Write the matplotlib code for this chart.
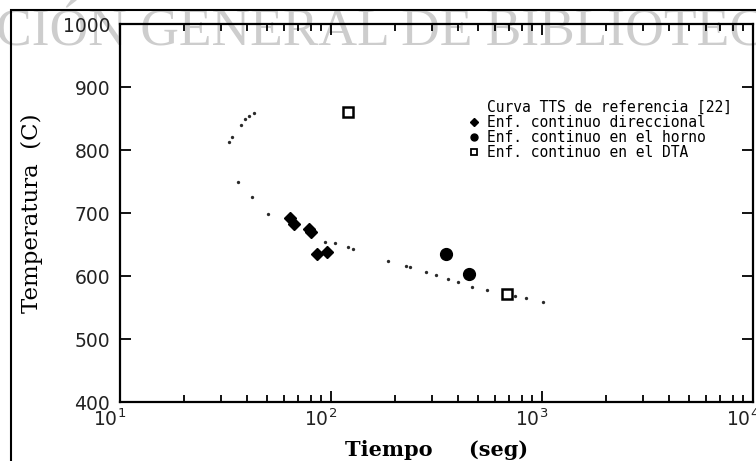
import matplotlib
matplotlib.use("Agg")
import matplotlib.pyplot as plt
from matplotlib.lines import Line2D
from matplotlib.patches import Rectangle
from matplotlib.ticker import LogLocator, FixedLocator, NullFormatter
import matplotlib.transforms as mtransforms

# ---- data ----
tts_time = [43.2, 40.8, 39.1, 37.4, 33.9, 32.9,
            36.2, 42.3, 50.2, 93.7, 104.5, 120.5, 127, 186, 227, 237,
            282, 315, 358, 400, 466, 548, 745, 840, 1011]
tts_temp = [859, 854, 849, 840, 821, 813,
            749, 725, 698, 654, 652, 646, 643, 624, 616, 614,
            606, 602, 595, 590, 583, 578, 568, 565, 559]

dir_time = [64.0, 66.8, 78.7, 80.4, 85.9, 95.7]
dir_temp = [692, 683, 675, 670, 635, 638]

horno_time = [351, 451]
horno_temp = [635, 603]

dta_time = [120.5, 682]
dta_temp = [860, 571]

labels = ["Curva TTS de referencia [22]",
          "Enf. continuo direccional",
          "Enf. continuo en el horno",
          "Enf. continuo en el DTA"]
yticks = [400, 500, 600, 700, 800, 900, 1000]
xticks = [10, 100, 1000, 10000]
xticklabels = [r"$10^{1}$", r"$10^{2}$", r"$10^{3}$", r"$10^{4}$"]

W, H = 756, 461
fig = plt.figure(figsize=(W / 100, H / 100), dpi=100, facecolor="white")

# watermark
fig.text(-4 / W, 1 - 46 / H, "CIÓN GENERAL DE BIBLIOTECAS", family="Liberation Serif",
         fontsize=38.5, color="#cdcdcd", ha="left", va="baseline", zorder=-5)

# outer frame
fig.add_artist(Rectangle((11 / W, -0.2), 1.5, 1.2 - 10 / H, transform=fig.transFigure,
                         fill=False, lw=1.5, edgecolor="black"))

ax = fig.add_axes([120 / W, 1 - 402 / H, (753 - 120) / W, (402 - 24) / H])
ax.set_facecolor("none")

ax.plot(tts_time, tts_temp, linestyle="none", marker="o", markersize=2.4,
        color="#2a2a2a", markeredgewidth=0)
ax.plot(dir_time, dir_temp, linestyle="none", marker="D", markersize=6,
        color="black")
ax.plot(horno_time, horno_temp, linestyle="none", marker="o", markersize=8.5,
        color="black")
ax.plot(dta_time, dta_temp, linestyle="none", marker="s", markersize=7,
        markerfacecolor="white", markeredgecolor="black", markeredgewidth=1.8)

ax.set_xscale("log")
ax.set_xlim(10, 10000)
ax.set_ylim(400, 1000)

ax.xaxis.set_major_locator(FixedLocator(xticks))
ax.set_xticklabels(xticklabels)
ax.xaxis.set_minor_locator(LogLocator(base=10, subs=range(2, 10)))
ax.xaxis.set_minor_formatter(NullFormatter())
ax.set_yticks(yticks)
ax.set_yticklabels([str(v) for v in yticks])

ax.tick_params(axis="both", which="both", direction="in", top=True, right=True,
               width=1.3, color="black")
ax.tick_params(axis="both", which="major", length=8)
ax.tick_params(axis="both", which="minor", length=5)
ax.tick_params(axis="y", labelsize=13.5, pad=7, labelcolor="#222222")
ax.tick_params(axis="x", labelsize=13.5, pad=5, labelcolor="#222222")
for lab in ax.get_yticklabels():
    lab.set_family("DejaVu Sans")
offset = mtransforms.ScaledTranslation(-10 / 100, 0, fig.dpi_scale_trans)
for lab in ax.get_xticklabels():
    lab.set_transform(lab.get_transform() + offset)

for s in ax.spines.values():
    s.set_linewidth(1.6)

ax.set_xlabel("Tiempo     (seg)", family="DejaVu Serif", fontweight="bold",
              fontsize=15, labelpad=7)
ax.set_ylabel("Temperatura  (C)", family="DejaVu Serif", fontsize=16.5, labelpad=14)

handles = [Line2D([], [], linestyle="none"),
           Line2D([], [], linestyle="none", marker="D", markersize=4, color="black"),
           Line2D([], [], linestyle="none", marker="o", markersize=5, color="black"),
           Line2D([], [], linestyle="none", marker="s", markersize=4.5,
                  markerfacecolor="white", markeredgecolor="black", markeredgewidth=1.3)]
leg = ax.legend(handles, labels, loc="upper left",
                bbox_to_anchor=((468 - 120) / 633, (402 - 100) / 378),
                frameon=False, borderpad=0, borderaxespad=0,
                handlelength=0.8, handletextpad=0.5, labelspacing=0.0,
                prop={"family": "DejaVu Sans Mono", "size": 10.5})

fig.savefig("out.png", dpi=100, facecolor="white")
